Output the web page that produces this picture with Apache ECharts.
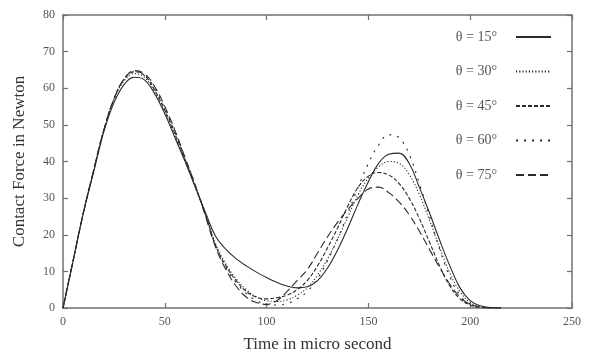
<!DOCTYPE html>
<html><head><meta charset="utf-8">
<script src="https://cdn.jsdelivr.net/npm/echarts@6/dist/echarts.min.js"></script>
<style>html,body{margin:0;padding:0;background:#fff}#c{width:591px;height:358px}</style>
</head><body><div id="c"></div>
<script>
var time = [0,5,10,15,20,25,30,35,40,45,50,55,60,65,70,75,80,85,90,95,100,105,110,115,120,125,130,135,140,145,150,155,160,165,170,175,180,185,190,195,200,205,210,215];
var f15 = [0,13,26,37,48,56,61,63,62.3,58.5,53,46.5,40,33,26,19.5,16,13.5,11.5,9.8,8.3,7,6,5.5,5.8,7.5,11,16,22,28.5,34.5,39.5,42,42.3,39.5,33,26,18.5,11.5,5.5,2,0.6,0.1,0];
var f30 = [0,13,26,37.5,48.5,57,62,64,63,59,53.5,47,40,33,25.5,17.5,12,8,5,3,2,1.8,2.2,3.5,5.5,9,13.5,19,25,31,35.5,38.5,40,39.5,36.5,31,24,16.5,9.5,4.5,1.5,0.4,0,0];
var f45 = [0,13,26,37.5,48.5,57,62.5,64.5,63.5,59.5,54,47.5,40.5,33,25.5,17,11.5,7.5,4.5,3,2.5,2.8,3.5,5,7.5,11.5,16.5,22,28,33,36,37,36.3,34,30,24.5,18,11.5,6,2.5,0.8,0.2,0,0];
var f60 = [0,13,26,37.5,48.5,57,62.5,64.5,63.8,60,54.5,48,41,33.5,25.5,17,11,7,4,2,1,0.8,1.2,2.5,4.5,8,13,19,26,33,39.5,44.5,47.3,46.5,42,34,25,16,8.5,3.5,1,0.2,0,0];
var f75 = [0,13,26,37.5,48.5,57,62.5,64.8,64,60.5,55,48.5,41,33.5,25,16.5,10.5,6,3,1.5,1,2,4.5,7.5,10.5,15,19.5,23.5,27,30,32.5,33,31.5,29,25.5,21,16,11,6.5,3,1,0.3,0,0];
var seriesNames = ['θ = 15°','θ = 30°','θ = 45°','θ = 60°','θ = 75°'];
var seriesData = [f15,f30,f45,f60,f75];
var xTicks = [0,50,100,150,200,250];
var yTicks = [0,10,20,30,40,50,60,70,80];

var dashes = ['solid',[1.2,2],[4,2],[2,6],[8,4]];
var serif = '"Liberation Serif","DejaVu Serif",serif';
var axCol = '#707070';
function pairs(arr){ return time.map(function(t,i){ return [t, arr[i]]; }); }
var series = seriesNames.map(function(n,k){
  return {name:n,type:'line',smooth:0.4,symbol:'none',showSymbol:false,
    data:pairs(seriesData[k]),
    itemStyle:{color:'#222',opacity:0},
    lineStyle:{color:'#2a2a2a',width:1.1,type:dashes[k]}};
});
series.push({name:'_box',type:'line',xAxisIndex:1,yAxisIndex:1,symbol:'none',data:[[0,0],[250,80]],lineStyle:{opacity:0},silent:true});
function axisCommon(){
  return {axisLine:{show:true,onZero:false,lineStyle:{color:axCol,width:1.5}},
    axisTick:{show:true,inside:true,length:5,lineStyle:{color:axCol,width:1.2}},
    splitLine:{show:false}};
}
var chart = echarts.init(document.getElementById('c'),null,{renderer:'canvas'});
var xa = Object.assign(axisCommon(),{type:'value',position:'bottom',min:xTicks[0],max:xTicks[xTicks.length-1],interval:50,
  name:'Time in micro second',nameLocation:'middle',nameGap:28,
  nameTextStyle:{fontFamily:serif,fontSize:17,color:'#333'},
  axisLabel:{fontFamily:serif,fontSize:12,color:'#555',margin:8}});
var xa2 = Object.assign(axisCommon(),{type:'value',position:'top',min:0,max:250,interval:50,axisLabel:{show:false}});
var ya = Object.assign(axisCommon(),{type:'value',position:'left',min:yTicks[0],max:yTicks[yTicks.length-1],interval:10,
  name:'Contact Force in Newton',nameLocation:'middle',nameGap:35,
  nameTextStyle:{fontFamily:serif,fontSize:17,color:'#333'},
  axisLabel:{fontFamily:serif,fontSize:12,color:'#555',margin:8}});
var ya2 = Object.assign(axisCommon(),{type:'value',position:'right',min:0,max:80,interval:10,axisLabel:{show:false}});
chart.setOption({
  animation:false,
  backgroundColor:'#fff',
  grid:{left:63,right:19,top:15,bottom:50},
  xAxis:[xa,xa2],
  yAxis:[ya,ya2],
  legend:{orient:'vertical',right:34,top:25,align:'right',itemWidth:35,itemHeight:10,itemGap:20.5,
    itemStyle:{opacity:0},
    textStyle:{fontFamily:serif,fontSize:14,color:'#555',padding:[0,14,0,0]},
    data:seriesNames},
  series:series
});
</script></body></html>
